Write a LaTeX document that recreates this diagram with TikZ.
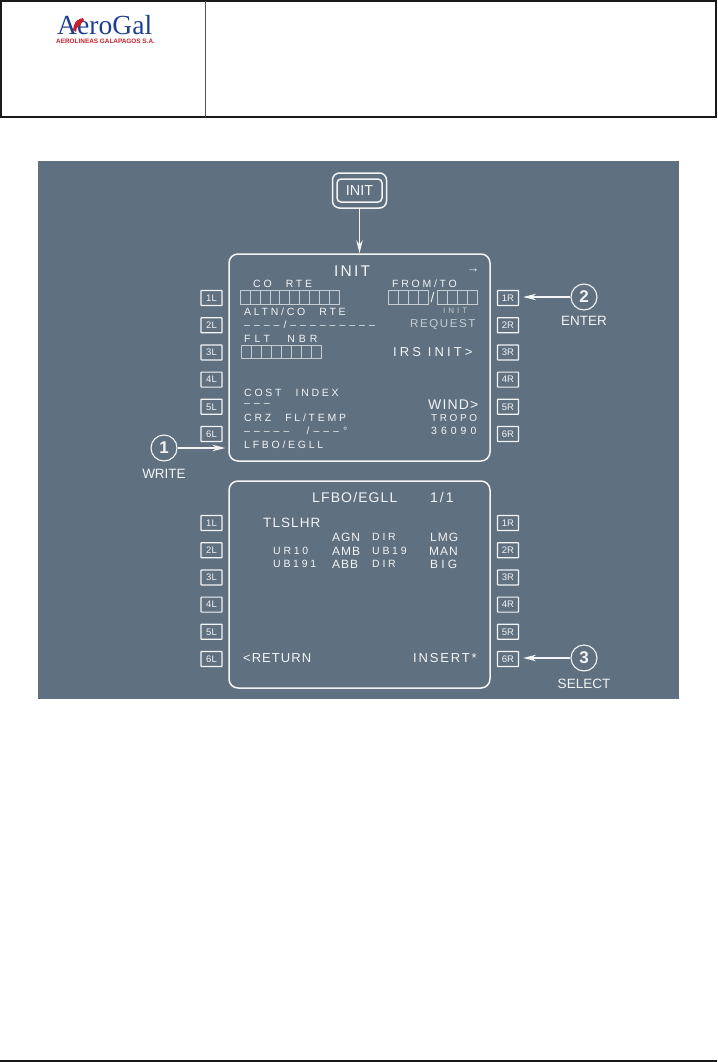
\documentclass[tikz,border=0pt]{standalone}
\usepackage{fontspec}
\setmainfont{Liberation Sans}
\newfontfamily\logofont{Liberation Serif}
\newfontfamily\cdutight[LetterSpace=8]{Liberation Sans}
\newfontfamily\cdufont[LetterSpace=14]{Liberation Sans}
\newfontfamily\cdubroad[LetterSpace=24,WordSpace=1]{Liberation Sans}
\newfontfamily\cduwide[LetterSpace=26,WordSpace=2.5]{Liberation Sans}
\newfontfamily\cdudash[LetterSpace=38,WordSpace=2.5]{Liberation Sans}
\usetikzlibrary{arrows.meta,positioning}
\definecolor{slatebg}{HTML}{5F7080}
\definecolor{ink}{HTML}{F2F4F5}
\definecolor{faded}{HTML}{C5CDD3}
\definecolor{logoblue}{HTML}{1C3F94}
\definecolor{logored}{HTML}{C8202C}
\definecolor{frame}{HTML}{1A1A1A}
\definecolor{divider}{HTML}{555555}

\begin{document}
\begin{tikzpicture}[
  x=1pt,y=-1pt,
  node distance=11pt and 11pt,
  screen/.style={draw=ink,line width=1.5pt,rounded corners=9pt,minimum width=261pt,minimum height=207pt},
  lsk/.style={draw=ink,line width=1.2pt,rounded corners=0.5pt,minimum width=21pt,minimum height=15pt,
              inner sep=0pt,text=ink,font=\fontsize{9.5}{9.5}\selectfont},
  callout/.style={circle,draw=ink,line width=1.1pt,minimum size=26pt,inner sep=0pt,text=ink,
                  font=\fontsize{17}{17}\selectfont},
  caption/.style={text=ink,inner sep=0pt,font=\fontsize{13.5}{13.5}\selectfont},
  big/.style={anchor=west,text=ink,inner sep=0pt,font=\cdufont\fontsize{13}{13}\selectfont},
  tight/.style={big,font=\cdutight\fontsize{14}{14}\selectfont},
  route/.style={big,font=\cdutight\fontsize{12}{12}\selectfont},
  mid/.style={anchor=west,text=ink,inner sep=0pt,font=\cduwide\fontsize{10.5}{10.5}\selectfont},
  dashline/.style={mid,font=\cdudash\fontsize{10.5}{10.5}\selectfont},
  worn/.style={mid,text=faded},
  cell/.style={draw=faded,line width=0.9pt},
  ar/.style={-{Stealth[length=13pt,width=6.5pt]},draw=ink,line width=1.3pt}
]
\useasboundingbox (0,0) rectangle (717,1062);

% header table
\draw[frame,line width=1.8pt] (1,1) -- (716,1) -- (716,117) -- (1,117) -- cycle;
\draw[divider,line width=0.9pt] (205,1) -- (205,117);
\draw[frame,line width=1.6pt] (0,1061) -- (717,1061);
\node[anchor=base west,inner sep=0pt,text=logoblue,font=\logofont\fontsize{27.6}{27.6}\selectfont] (logo) at (57,35) {AeroGal};
\node[anchor=base west,inner sep=0pt,text=logored,font=\bfseries\fontsize{6.4}{6.4}\selectfont] (sublogo) at (56,43.5) {AEROLINEAS GALAPAGOS S.A.};
\fill[logored] (73,30) .. controls (74,23) and (76,20) .. (80,19) .. controls (82,17) and (84,18) .. (84,20)
  .. controls (82,23) and (80,24) .. (79,26) .. controls (77,27) and (76,29) .. (76,32) -- cycle;

% grey panel
\fill[slatebg] (38,161) rectangle (679,699);

\node[draw=ink,line width=1.5pt,rounded corners=7pt,minimum width=54pt,minimum height=35pt] (initouter) at (359.5,190.5) {};
\node[draw=ink,line width=1.5pt,rounded corners=4pt,minimum width=45pt,minimum height=23pt,text=ink,
      inner sep=0pt,font=\fontsize{14.5}{14.5}\selectfont] (initkey) at (359.5,190.5) {INIT};

\node[screen] (upper) at (359.5,357.5) {};
\node[screen] (lower) at (359.5,584.5) {};
\draw[ar] (initouter.south) -- (upper.north);

% line select keys, upper
\node[lsk] (ua) at (211.5,298) {1L};
\node[lsk,below=of ua] (ub) {2L};
\node[lsk,below=of ub] (uc) {3L};
\node[lsk,below=of uc] (ud) {4L};
\node[lsk,below=of ud] (ue) {5L};
\node[lsk,below=of ue] (uf) {6L};
\node[lsk] (ug) at (508,298) {1R};
\node[lsk,below=of ug] (uh) {2R};
\node[lsk,below=of uh] (ui) {3R};
\node[lsk,below=of ui] (uj) {4R};
\node[lsk,below=of uj] (uk) {5R};
\node[lsk,below=of uk] (ul) {6R};
% line select keys, lower
\node[lsk] (la) at (211.5,523) {1L};
\node[lsk,below=of la] (lb) {2L};
\node[lsk,below=of lb] (lc) {3L};
\node[lsk,below=of lc] (ld) {4L};
\node[lsk,below=of ld] (le) {5L};
\node[lsk,below=of le] (lf) {6L};
\node[lsk] (lg) at (508,523) {1R};
\node[lsk,below=of lg] (lh) {2R};
\node[lsk,below=of lh] (li) {3R};
\node[lsk,below=of li] (lj) {4R};
\node[lsk,below=of lj] (lk) {5R};
\node[lsk,below=of lk] (ll) {6R};

% callouts
\node[callout] (one) at (164,448) {\textbf{1}};
\node[callout] (two) at (584,297) {\textbf{2}};
\node[callout] (three) at (584,658) {\textbf{3}};
\node[caption,below=7pt of one.south] (write) {WRITE};
\node[caption,below=5pt of two.south] (enter) {ENTER};
\node[caption,below=7pt of three.south] (select) {SELECT};
\draw[ar,shorten >=3pt] (one) -- (one -| upper.west);
\draw[ar,shorten >=4pt] (two) -- (two -| ug.east);
\draw[ar,shorten >=4pt] (three) -- (three -| ll.east);

% upper screen text
\node[big,font=\cdufont\fontsize{15.5}{15.5}\selectfont] (t1) at (334,271) {INIT};
\node[anchor=center,inner sep=0pt,text=ink,font=\fontsize{13}{13}\selectfont] (t2) at (473,271) {→};
\node[mid] (t3) at (253,284) {CO RTE};
\node[mid] (t4) at (392,284) {FROM/TO};
\node[mid] (t5) at (244,312) {ALTN/CO RTE};
\node[worn,font=\cdudash\fontsize{8}{8}\selectfont] (t6) at (443,311) {I\kern3pt N\kern3pt I\kern3pt T};
\node[dashline] (t7) at (244,325) {––––/–––––––––};
\node[worn,font=\cdufont\fontsize{11.5}{11.5}\selectfont] (t8) at (410,325) {REQUEST};
\node[dashline] (t9) at (244,339) {FLT NBR};
\node[big,font=\cdubroad\fontsize{13}{13}\selectfont] (t10) at (393,352) {IRS INIT>};
\node[mid] (t11) at (244,393) {COST INDEX};
\node[dashline] (t12) at (244,405) {–––};
\node[mid] (t13) at (244,418) {CRZ FL/TEMP};
\node[dashline] (t14) at (244,431) {––––– /–––°};
\node[mid] (t15) at (244,445) {LFBO/EGLL};
\node[tight] (t16) at (428,405) {WIND>};
\node[mid,font=\cduwide\fontsize{10}{10}\selectfont] (t17) at (431,418) {TROPO};
\node[dashline] (t18) at (431,431) {36090};

% entry boxes
\foreach \i in {0,...,9} \draw[cell] (240.5+\i*9.85,290) rectangle +(9.85,14);
\foreach \i in {0,...,3} \draw[cell] (388+\i*10,290) rectangle +(10,14);
\foreach \i in {0,...,3} \draw[cell] (437.5+\i*10.1,290) rectangle +(10.1,14);
\foreach \i in {0,...,7} \draw[cell] (241+\i*10,345) rectangle +(10,13.5);
\node[anchor=center,inner sep=0pt,text=ink,font=\fontsize{14}{14}\selectfont] (slash) at (432.5,297) {/};

% lower screen text
\node[tight] (b1) at (312,497) {LFBO/EGLL};
\node[big,font=\cdufont\fontsize{14}{14}\selectfont] (b2) at (430,497) {1/1};
\node[tight,font=\cdutight\fontsize{13.5}{13.5}\selectfont] (b3) at (263,523) {TLSLHR};
\node[route] (b4) at (332,537) {AGN};
\node[mid] (b5) at (372,537) {DIR};
\node[route] (b6) at (430,537) {LMG};
\node[mid] (b7) at (273,551) {UR10};
\node[route] (b8) at (332,551) {AMB};
\node[mid] (b9) at (372,551) {UB19};
\node[route] (b10) at (429,551) {MAN};
\node[mid] (b11) at (273,564) {UB191};
\node[route] (b12) at (332,564) {ABB};
\node[mid] (b13) at (372,564) {DIR};
\node[route,font=\cduwide\fontsize{12}{12}\selectfont] (b14) at (430,564) {BIG};
\node[tight,font=\cdutight\fontsize{13}{13}\selectfont] (b15) at (243,658) {<RETURN};
\node[big] (b16) at (413,658) {INSERT*};
\end{tikzpicture}
\end{document}
